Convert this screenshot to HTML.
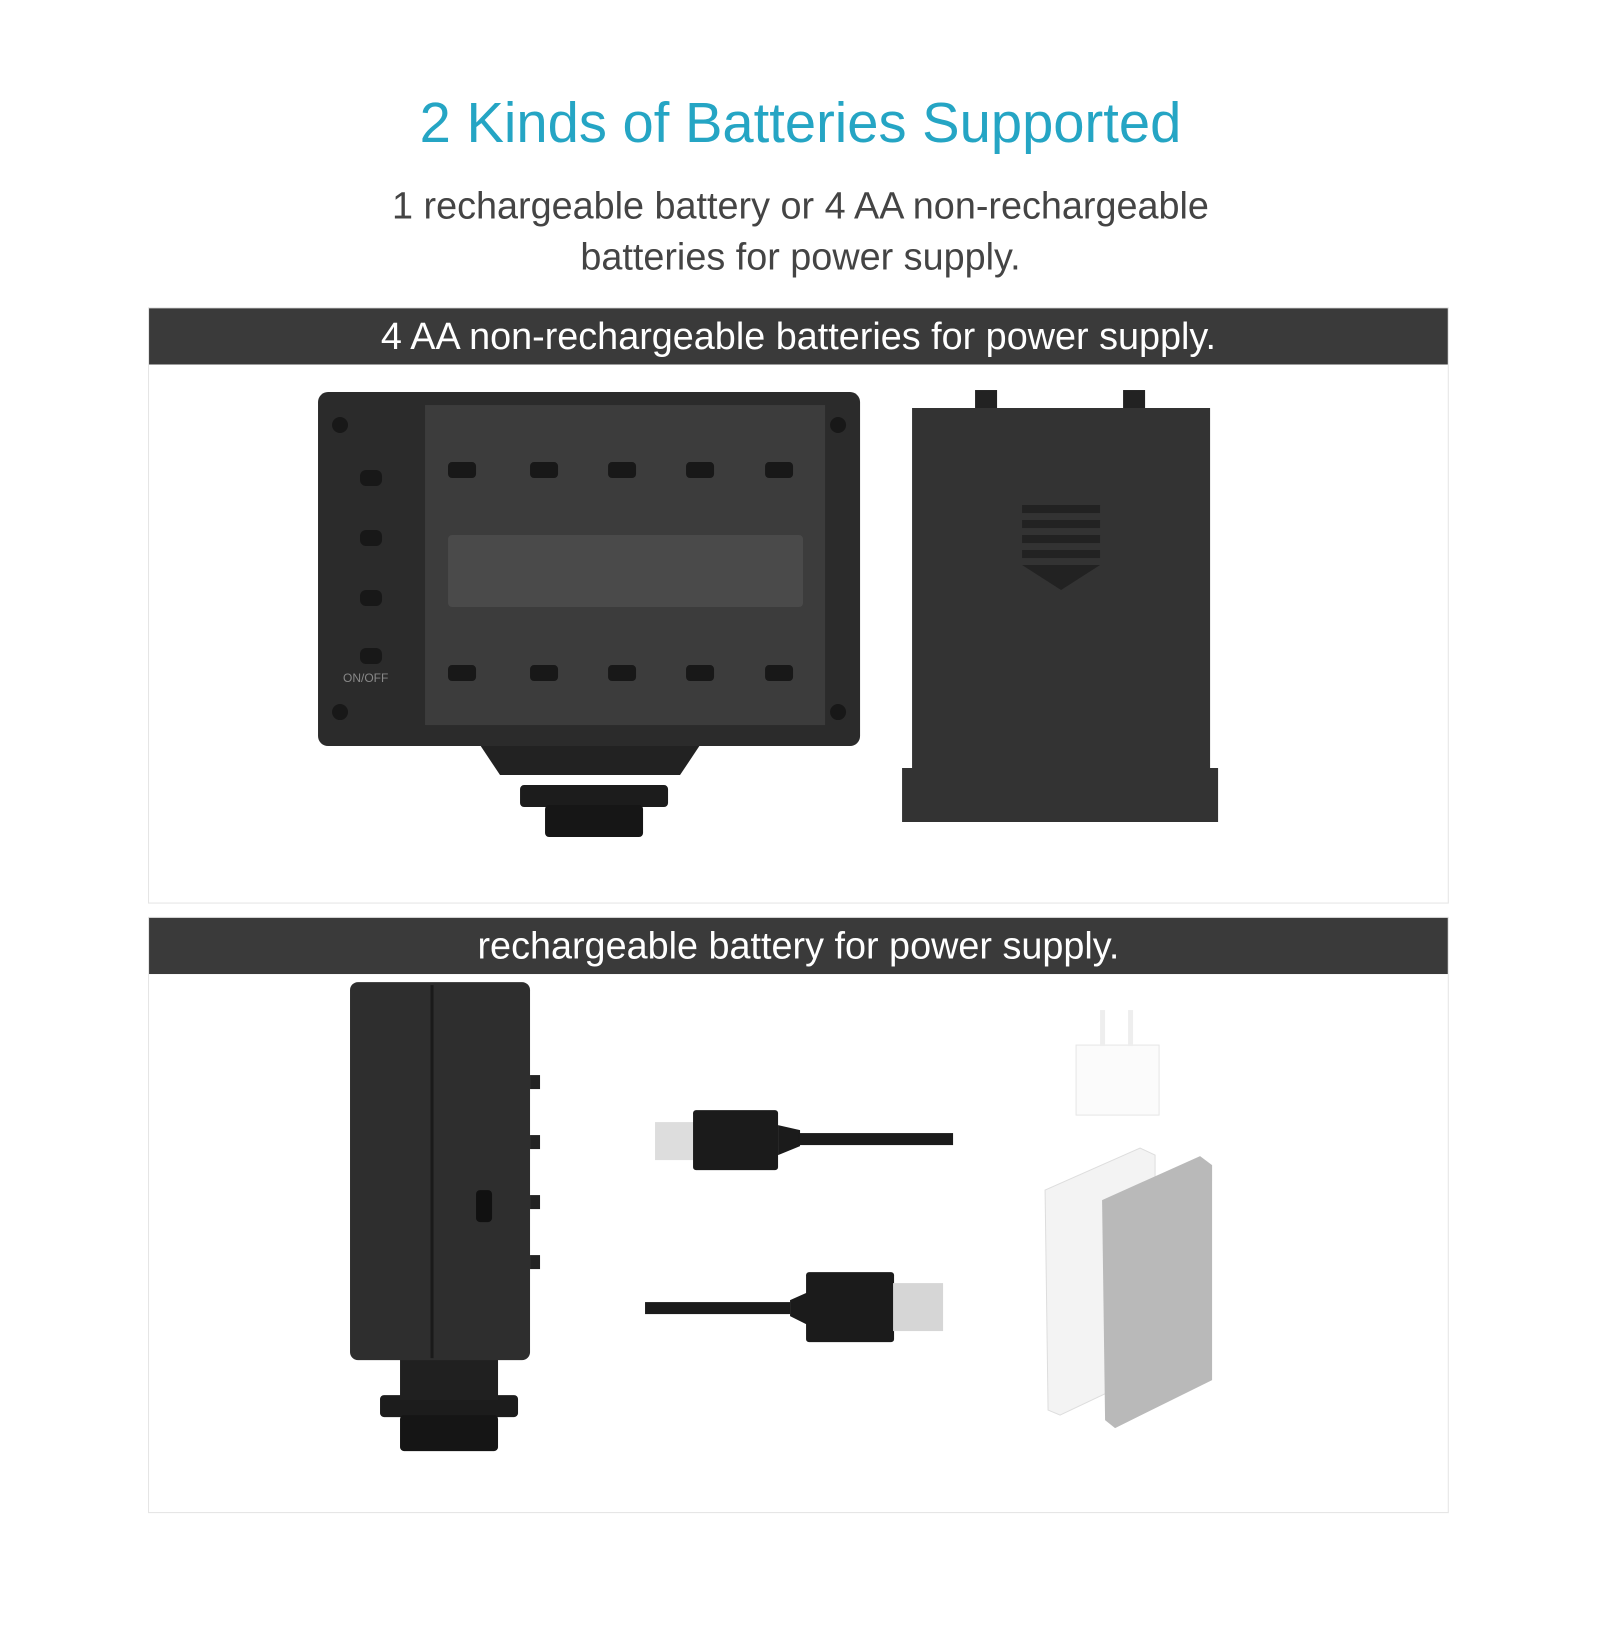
<!DOCTYPE html>
<html><head><meta charset="utf-8"><style>
body{margin:0;width:1601px;height:1601px;background:#fff;position:relative;overflow:hidden;font-family:"Liberation Sans",sans-serif}
#w{position:absolute;left:0;top:0;width:1601px;height:1601px;transform:scale(1.021);transform-origin:0 0}
.a{position:absolute}
.t{left:0;width:1568px;text-align:center}
.panel{position:absolute;left:145px;width:1272px;border:1px solid #e4e4e4;background:#fff}
.hd{position:absolute;left:0;top:0;width:1272px;height:55px;background:#3a3a3a;color:#fff;font-size:37px;line-height:55px;text-align:center}
</style></head><body><div id="w">
<div class="a t" style="top:88px;font-size:55px;color:#25a5c4">2 Kinds of Batteries Supported</div>
<div class="a t" style="top:177px;font-size:37px;color:#444;line-height:50px">1 rechargeable battery or 4 AA non-rechargeable<br>batteries for power supply.</div>

<div class="panel" style="top:301px;height:582px"><div class="hd">4 AA non-rechargeable batteries for power supply.</div></div>
<div class="panel" style="top:898px;height:582px"><div class="hd">rechargeable battery for power supply.</div></div>

<svg class="a" style="left:0;top:0" width="1601" height="1601">
<g transform="scale(0.9795)">
<path d="M480 745 L700 745 L680 775 L500 775Z" fill="#222"/>
<rect x="520" y="785" width="148" height="22" rx="4" fill="#1c1c1c"/>
<rect x="545" y="805" width="98" height="32" rx="4" fill="#161616"/>
<rect x="318" y="392" width="542" height="354" rx="10" fill="#2b2b2b"/>
<rect x="425" y="405" width="400" height="320" fill="#3c3c3c"/>
<rect x="448" y="535" width="355" height="72" rx="4" fill="#4a4a4a"/>
<g fill="#181818">
<rect x="448" y="462" width="28" height="16" rx="4"/><rect x="530" y="462" width="28" height="16" rx="4"/><rect x="608" y="462" width="28" height="16" rx="4"/><rect x="686" y="462" width="28" height="16" rx="4"/><rect x="765" y="462" width="28" height="16" rx="4"/>
<rect x="448" y="665" width="28" height="16" rx="4"/><rect x="530" y="665" width="28" height="16" rx="4"/><rect x="608" y="665" width="28" height="16" rx="4"/><rect x="686" y="665" width="28" height="16" rx="4"/><rect x="765" y="665" width="28" height="16" rx="4"/>
<rect x="360" y="470" width="22" height="16" rx="6"/><rect x="360" y="530" width="22" height="16" rx="6"/><rect x="360" y="590" width="22" height="16" rx="6"/><rect x="360" y="648" width="22" height="16" rx="6"/>
<circle cx="340" cy="425" r="8"/><circle cx="340" cy="712" r="8"/><circle cx="838" cy="425" r="8"/><circle cx="838" cy="712" r="8"/>
</g>
<text x="343" y="682" font-size="12" fill="#888" font-family="Liberation Sans">ON/OFF</text>
<rect x="975" y="390" width="22" height="20" fill="#222"/><rect x="1123" y="390" width="22" height="20" fill="#222"/>
<path d="M912 408 H1210 V768 H1218 V822 H902 V768 H912Z" fill="#333"/>
<g fill="#222"><rect x="1022" y="505" width="78" height="8"/><rect x="1022" y="520" width="78" height="8"/><rect x="1022" y="535" width="78" height="8"/><rect x="1022" y="550" width="78" height="8"/><path d="M1022 565 H1100 L1061 590Z"/></g>
<rect x="380" y="1395" width="138" height="22" rx="4" fill="#1c1c1c"/>
<rect x="400" y="1415" width="98" height="36" rx="4" fill="#151515"/>
<rect x="400" y="1355" width="98" height="45" fill="#202020"/>
<rect x="350" y="982" width="180" height="378" rx="8" fill="#2e2e2e"/>
<line x1="432" y1="985" x2="432" y2="1358" stroke="#1a1a1a" stroke-width="3"/>
<rect x="476" y="1190" width="16" height="32" rx="4" fill="#111"/>
<g fill="#222"><rect x="530" y="1075" width="10" height="14"/><rect x="530" y="1135" width="10" height="14"/><rect x="530" y="1195" width="10" height="14"/><rect x="530" y="1255" width="10" height="14"/></g>
<rect x="655" y="1122" width="40" height="38" fill="#ddd"/><rect x="693" y="1110" width="85" height="60" rx="3" fill="#1b1b1b"/>
<path d="M778 1125 L800 1130 V1146 L778 1155Z" fill="#1b1b1b"/><rect x="798" y="1133" width="155" height="12" fill="#1b1b1b"/>
<rect x="645" y="1302" width="145" height="12" fill="#1b1b1b"/><path d="M790 1300 L808 1292 V1325 L790 1316Z" fill="#1b1b1b"/>
<rect x="806" y="1272" width="88" height="70" rx="3" fill="#1b1b1b"/><rect x="893" y="1283" width="50" height="48" fill="#d6d6d6"/>
<rect x="1076" y="1045" width="83" height="70" fill="#fbfbfb" stroke="#e6e6e6"/>
<rect x="1100" y="1010" width="5" height="36" fill="#eee"/><rect x="1128" y="1010" width="5" height="36" fill="#eee"/>
<path d="M1045 1190 L1140 1148 L1155 1155 L1155 1370 L1060 1415 L1048 1410Z" fill="#f3f3f3" stroke="#ddd"/>
<path d="M1102 1200 L1200 1156 L1212 1165 L1212 1380 L1115 1428 L1105 1420Z" fill="#b9b9b9"/>
</g>
</svg>
</div></body></html>
